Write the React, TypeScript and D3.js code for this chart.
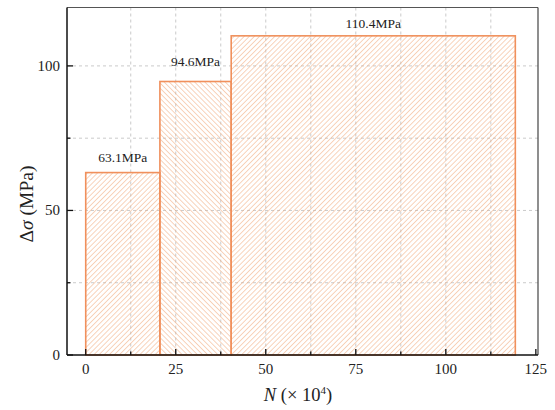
import React from "react";
import * as d3 from "d3";

// bin edges along N (x 10^4) and stress range per bin
const binEdges = [0, 20.6, 40.4, 119.3];
const stressRange = [63.1, 94.6, 110.4];
const barLabels = ["63.1MPa", "94.6MPa", "110.4MPa"];
const labelLevel = [66.8, 99.8, 113.1];
const xTicks = [0, 25, 50, 75, 100, 125];
const yTicks = [0, 50, 100];
const xGrid = d3.range(12.5, 125, 12.5);
const yGrid = [25, 50, 75, 100];

const W = 555, H = 410;
const left = 67, right = 538, top = 7.5, bottom = 355;

export default function App() {
  const x = d3.scaleLinear().domain([-5.2, 125.6]).range([left, right]);
  const y = d3.scaleLinear().domain([0, 120.2]).range([bottom, top]);
  const font = "'Liberation Serif', 'Times New Roman', serif";
  const bars = stressRange.map((v, i) => ({ x0: binEdges[i], x1: binEdges[i + 1], v, label: barLabels[i], ly: labelLevel[i] }));

  return (
    <svg width={W} height={H} style={{ position: "absolute", left: 0, top: 0, background: "#fff" }} fontFamily={font}>
      <defs>
        <pattern id="hatchR" patternUnits="userSpaceOnUse" width="3.6" height="10" patternTransform="rotate(45)">
          <line x1="0" y1="-1" x2="0" y2="11" stroke="#f1a878" strokeWidth="1" />
        </pattern>
        <pattern id="hatchL" patternUnits="userSpaceOnUse" width="3.6" height="10" patternTransform="rotate(-45)">
          <line x1="0" y1="-1" x2="0" y2="11" stroke="#f1a878" strokeWidth="1" />
        </pattern>
      </defs>

      {/* grid */}
      <g stroke="#bdbdbd" strokeWidth="0.8" strokeDasharray="3,3">
        {xGrid.map(t => <line key={"gx" + t} x1={x(t)} x2={x(t)} y1={top} y2={bottom} />)}
        {yGrid.map(t => <line key={"gy" + t} x1={left} x2={right} y1={y(t)} y2={y(t)} />)}
      </g>

      {/* bars */}
      {bars.map((b, i) => (
        <g key={i}>
          <rect x={x(b.x0)} y={y(b.v)} width={x(b.x1) - x(b.x0)} height={y(0) - y(b.v)}
            fill={i === 1 ? "url(#hatchL)" : "url(#hatchR)"} stroke="#f0905c" strokeWidth="1.6" />
          <text x={x((b.x0 + b.x1) / 2)} y={y(b.ly)} textAnchor="middle" fontSize="13.5" fill="#222">{b.label}</text>
        </g>
      ))}

      {/* frame */}
      <line x1={left} x2={right} y1={top} y2={top} stroke="#555" strokeWidth="1" />
      <line x1={right} x2={right} y1={top} y2={bottom} stroke="#444" strokeWidth="1.2" />
      <line x1={left} x2={left} y1={top} y2={bottom} stroke="#111" strokeWidth="1.5" />
      <line x1={left} x2={right} y1={bottom} y2={bottom} stroke="#111" strokeWidth="1.5" />

      {/* ticks */}
      <g stroke="#111" strokeWidth="1.3">
        {xTicks.map(t => <line key={"xt" + t} x1={x(t)} x2={x(t)} y1={bottom} y2={bottom - 6} />)}
        {xTicks.slice(0, -1).map(t => <line key={"xm" + t} x1={x(t + 12.5)} x2={x(t + 12.5)} y1={bottom} y2={bottom - 3.5} />)}
        {yTicks.map(t => <line key={"yt" + t} x1={left} x2={left + 6} y1={y(t)} y2={y(t)} />)}
        {yTicks.map(t => <line key={"ym" + t} x1={left} x2={left + 3.5} y1={y(t + 25)} y2={y(t + 25)} />)}
      </g>
      <g fontSize="15" fill="#222">
        {xTicks.map(t => <text key={"xl" + t} x={x(t)} y={bottom + 19} textAnchor="middle">{t}</text>)}
        {yTicks.map(t => <text key={"yl" + t} x={left - 7} y={y(t) + 5} textAnchor="end">{t}</text>)}
      </g>

      {/* axis titles */}
      <text x={298} y={401} textAnchor="middle" fontSize="18.5" fill="#222">
        <tspan fontStyle="italic">N</tspan> (× 10<tspan dy="-7" fontSize="11">4</tspan><tspan dy="7">)</tspan>
      </text>
      <text transform={`translate(33, ${204}) rotate(-90)`} textAnchor="middle" fontSize="19.5" fill="#222">
        Δ<tspan fontStyle="italic">σ</tspan> (MPa)
      </text>
    </svg>
  );
}
